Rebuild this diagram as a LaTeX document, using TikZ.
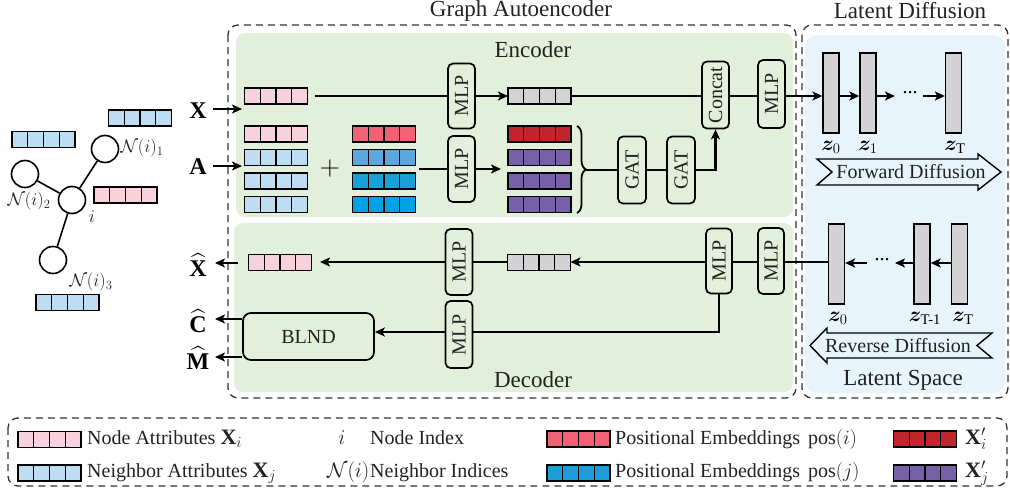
\RequirePackage{fix-cm}
\documentclass[tikz,border=0pt]{standalone}
\usepackage{amsmath}
\usepackage{bm}
\usepackage{fontspec}
\setmainfont{Liberation Serif}
\usetikzlibrary{calc,decorations.pathreplacing,arrows.meta}
\definecolor{pinkc}{HTML}{F8D3DE}
\definecolor{lblue}{HTML}{BFDDF2}
\definecolor{grayc}{HTML}{D3D3D5}
\definecolor{posred}{HTML}{F06374}
\definecolor{posb1}{HTML}{5BA6DC}
\definecolor{posb2}{HTML}{1B9FD8}
\definecolor{posb3}{HTML}{00A3E2}
\definecolor{dred}{HTML}{C0272D}
\definecolor{purp}{HTML}{7660A8}
\definecolor{greenbg}{HTML}{E2EFDA}
\definecolor{bluebg}{HTML}{E8F4FB}
\definecolor{txt}{HTML}{222222}
\definecolor{dashc}{HTML}{333333}
\newcommand\fs[1]{\fontsize{#1}{#1}\selectfont}
\begin{document}
\begin{tikzpicture}[x=1pt,y=-1pt,
  bar/.style={draw=black, line width=1.3pt, fill=#1, minimum width=63pt, minimum height=16pt, inner sep=0pt, outer sep=0pt,
    path picture={\foreach \k in {1,2,3}{\draw[line width=1.3pt] ($(path picture bounding box.north west)!\k/4!(path picture bounding box.north east)$) -- ($(path picture bounding box.south west)!\k/4!(path picture bounding box.south east)$);}}},
  conn/.style={line width=2.6pt, draw=black},
  arr/.style={conn, -{Stealth[length=10pt,width=9pt,inset=2.5pt]}},
  box/.style={draw=black, line width=1.7pt, rounded corners=5pt, fill=greenbg, minimum width=27pt, inner sep=0pt, font=\fs{20}, text=txt},
  zbar/.style={draw=black, line width=1.3pt, fill=grayc, minimum width=16pt, minimum height=80pt, inner sep=0pt},
  gcirc/.style={circle, draw=black, line width=1.6pt, fill=white, minimum size=27pt, inner sep=0pt},
  gedge/.style={line width=1.6pt, draw=black},
  glbl/.style={font=\fs{18}, text=txt, inner sep=0pt},
  title/.style={font=\fs{23}, text=txt, inner sep=0pt},
  lbl/.style={font=\fs{20}, text=txt, inner sep=0pt},
  mlbl/.style={font=\fs{21}, text=txt, inner sep=0pt},
  iolbl/.style={font=\fs{24}, text=black, inner sep=1pt},
  zlbl/.style={font=\fs{21}, text=black, inner sep=0pt},
  dashbox/.style={draw=dashc, line width=1.3pt, dash pattern=on 7pt off 5pt, rounded corners=10pt},
  bigarr/.style={draw=black, line width=1.4pt, fill=bluebg},
  dots/.style={font=\fs{20}, inner sep=0pt}
]
\useasboundingbox (0,0) rectangle (1010,490);
% backgrounds
\fill[greenbg, rounded corners=9pt] (236,33) rectangle (793,217);
\fill[greenbg, rounded corners=9pt] (234,223) rectangle (793,392);
\fill[bluebg, rounded corners=12pt] (805,35) rectangle (1005,393);
\draw[dashbox] (228,25) rectangle (796,398);
\draw[dashbox] (802,25) rectangle (1008,398);
\draw[dashbox] (8,418) rectangle (1007,486);
% titles
\node[title] (tga) at (521,11) {Graph Autoencoder};
\node[title] (tld) at (910,11) {Latent Diffusion};
\node[title] (tenc) at (533,50) {Encoder};
\node[title] (tdec) at (533,380) {Decoder};
\node[title] (tls) at (903,380) {Latent Space};
% left graph
\node[gcirc] (ni) at (72,200) {};
\node[gcirc] (n1) at (105,149) {};
\node[gcirc] (n2) at (25,174) {};
\node[gcirc] (n3) at (53,260) {};
\draw[gedge] (ni) -- (n1);
\draw[gedge] (ni) -- (n2);
\draw[gedge] (ni) -- (n3);
\node[glbl] (ln1) at (142,148) {$\mathcal{N}(i)_1$};
\node[glbl] (ln2) at (29,201) {$\mathcal{N}(i)_2$};
\node[glbl] (lni) at (92,217) {$i$};
\node[glbl] (ln3) at (91,282) {$\mathcal{N}(i)_3$};
\node[bar=lblue] (gb1) at (140,118) {};
\node[bar=lblue] (gb2) at (43.5,139.5) {};
\node[bar=pinkc] (gb3) at (125.5,195) {};
\node[bar=lblue] (gb4) at (67.5,302.5) {};
% encoder inputs
\node[iolbl] (xlab) at (198,111) {$\mathbf{X}$};
\node[iolbl] (alab) at (198,167) {$\mathbf{A}$};
\coordinate (xend) at (242,109);
\coordinate (aend) at (242,166);
\draw[arr] (213,109) -- (xend);
\draw[arr] (213,166) -- (aend);
% encoder X row
\node[bar=pinkc] (xin) at (276,96) {};
\node[box, minimum height=65pt] (mlp1) at (461.5,96) {\rotatebox{90}{MLP}};
\node[bar=grayc] (xenc) at (539.5,96) {};
\node[box, minimum height=67pt] (concat) at (715.5,95) {\rotatebox{90}{Concat}};
\node[box, minimum height=68pt] (mlpe) at (771.5,94) {\rotatebox{90}{MLP}};
\coordinate (xst) at (315,96);
\draw[conn] (xst) -- (mlp1.west);
\draw[arr] (mlp1.east) -- (xenc.west);
\draw[conn] (xenc.east) -- (xenc.east -| concat.west);
\draw[conn] (xenc.east -| concat.east) -- (xenc.east -| mlpe.west);
% encoder A rows
\node[bar=pinkc] (a1) at (276,134) {};
\node[bar=lblue] (a2) at (276,157.5) {};
\node[bar=lblue] (a3) at (276,181) {};
\node[bar=lblue] (a4) at (276,204.5) {};
\node[font=\fs{28}, inner sep=0pt] (plus) at (330,168) {$+$};
\node[bar=posred] (p1) at (384,134) {};
\node[bar=posb1] (p2) at (384,157.5) {};
\node[bar=posb2] (p3) at (384,181) {};
\node[bar=posb3] (p4) at (384,204.5) {};
\node[box, minimum height=66pt] (mlp2) at (461.5,169) {\rotatebox{90}{MLP}};
\node[bar=dred] (o1) at (539.5,134) {};
\node[bar=purp] (o2) at (539.5,157.5) {};
\node[bar=purp] (o3) at (539.5,181) {};
\node[bar=purp] (o4) at (539.5,204.5) {};
\coordinate (pst) at (419,169);
\coordinate (pen) at (501,169);
\draw[conn] (pst) -- (mlp2.west);
\draw[arr] (mlp2.east) -- (pen);
\draw[line width=1.8pt, decorate, decoration={brace, amplitude=9pt}] (577,126) -- (577,213);
\coordinate (btip) at (586,170);
\node[box, minimum height=67pt, minimum width=28pt] (gat1) at (632,170) {\rotatebox{90}{GAT}};
\node[box, minimum height=67pt, minimum width=28pt] (gat2) at (681,170) {\rotatebox{90}{GAT}};
\draw[conn] (btip) -- (gat1.west);
\draw[conn] (gat1.east) -- (gat2.west);
\draw[arr] (gat2.east) -| (concat.south);
% forward diffusion
\node[zbar] (z0f) at (831,93) {};
\node[zbar] (z1f) at (868,93) {};
\node[zbar] (zTf) at (953.5,93) {};
\draw[arr] (xenc.east -| mlpe.east) -- (xenc.east -| z0f.west);
\draw[arr] (z0f.east |- xenc.east) -- (z1f.west |- xenc.east);
\coordinate (fa) at (895,96);
\coordinate (fb) at (923,96);
\node[dots] (dotf) at (910,93) {...};
\draw[arr] (z1f.east |- fa) -- (fa);
\draw[arr] (fb) -- (zTf.west |- fb);
\node[zlbl] (lz0f) at (831,147) {$\bm{z}_0$};
\node[zlbl] (lz1f) at (868,147) {$\bm{z}_1$};
\node[zlbl] (lzTf) at (955,147) {$\bm{z}_{\mathrm{T}}$};
\draw[bigarr] (817,159) -- (978,159) -- (978,154) -- (1001,172) -- (978,190) -- (978,185) -- (817,185) -- (832,172) -- cycle;
\node[lbl] (fwd) at (911,172) {Forward Diffusion};
% reverse diffusion
\node[zbar] (z0r) at (836.5,264) {};
\node[zbar] (zT1r) at (922,264) {};
\node[zbar] (zTr) at (959.5,264) {};
\coordinate (ra) at (867,263);
\coordinate (rb) at (895,263);
\node[dots] (dotr) at (882,260) {...};
\draw[arr] (ra) -- (z0r.east |- ra);
\draw[arr] (zT1r.west |- rb) -- (rb);
\draw[arr] (zTr.west |- rb) -- (zT1r.east |- rb);
\node[zlbl] (lz0r) at (838,318) {$\bm{z}_0$};
\node[zlbl] (lzT1r) at (925,318) {$\bm{z}_{\text{T-1}}$};
\node[zlbl] (lzTr) at (963,318) {$\bm{z}_{\mathrm{T}}$};
\draw[bigarr] (810,345.5) -- (827,328) -- (827,333) -- (992,333) -- (977,345.5) -- (992,358) -- (827,358) -- (827,363) -- cycle;
\node[lbl] (rev) at (898,346) {Reverse Diffusion};
% decoder
\node[bar=pinkc] (xout) at (280,262.5) {};
\node[box, minimum height=66pt] (mlp3) at (459,262) {\rotatebox{90}{MLP}};
\node[bar=grayc] (xdec) at (539,262.5) {};
\node[box, minimum height=65pt, minimum width=26pt] (mlp5) at (719,261) {\rotatebox{90}{MLP}};
\node[box, minimum height=66pt, minimum width=26pt] (mlp6) at (771,261) {\rotatebox{90}{MLP}};
\node[box, minimum height=67pt] (mlp4) at (459,334.5) {\rotatebox{90}{MLP}};
\node[box, minimum width=131pt, minimum height=47pt, rounded corners=8pt] (blnd) at (308.5,336.5) {BLND};
\coordinate (xoe) at (320,262);
\draw[conn] (z0r.west |- mlp3.east) -- (mlp6.east |- mlp3.east);
\draw[conn] (mlp6.west |- mlp3.east) -- (mlp5.east |- mlp3.east);
\draw[arr] (mlp5.west |- mlp3.east) -- (xdec.east |- mlp3.east);
\draw[conn] (xdec.west |- mlp3.east) -- (mlp3.east);
\draw[arr] (mlp3.west) -- (xoe);
\draw[conn] (mlp5.south) |- (mlp4.east |- 0,332);
\draw[arr] (mlp4.west |- 0,332) -- (blnd.east |- 0,332);
\node[iolbl] (xhat) at (198,265) {$\widehat{\mathbf{X}}$};
\node[iolbl] (chat) at (198,321) {$\widehat{\mathbf{C}}$};
\node[iolbl] (mhat) at (198,358) {$\widehat{\mathbf{M}}$};
\coordinate (xhs) at (238,263);
\draw[arr] (xhs) -- (215,263);
\draw[arr] (blnd.west |- 0,319) -- (215,319);
\draw[arr] (blnd.west |- 0,357) -- (215,357);
% legend
\node[bar=pinkc] (lg1) at (49.5,439.5) {};
\node[bar=lblue] (lg2) at (49.5,473) {};
\node[lbl, anchor=base west] (lt1) at (87,444) {Node Attributes {\fs{22}$\mathbf{X}_i$}};
\node[lbl, anchor=base west] (lt2) at (87,477) {Neighbor Attributes {\fs{22}$\mathbf{X}_j$}};
\node[mlbl, anchor=base] (lt3) at (342,444) {$i$};
\node[lbl, anchor=base west] (lt4) at (370,444) {Node Index};
\node[mlbl, anchor=base west] (lt5) at (327,477) {$\mathcal{N}(i)$};
\node[lbl, anchor=base west] (lt6) at (370,477) {Neighbor Indices};
\node[bar=posred] (lg3) at (578.5,439) {};
\node[bar=posb2] (lg4) at (578.5,473) {};
\node[lbl, anchor=base west] (lt7) at (615,444) {Positional Embeddings\hspace{3pt} $\mathrm{pos}(i)$};
\node[lbl, anchor=base west] (lt8) at (615,477) {Positional Embeddings\hspace{3pt} $\mathrm{pos}(j)$};
\node[bar=dred] (lg5) at (925,439) {};
\node[bar=purp] (lg6) at (925,473) {};
\node[mlbl, font=\fs{22}, anchor=base west] (lt9) at (965,444) {$\mathbf{X}'_i$};
\node[mlbl, font=\fs{22}, anchor=base west] (lt10) at (965,477) {$\mathbf{X}'_j$};
\end{tikzpicture}
\end{document}
